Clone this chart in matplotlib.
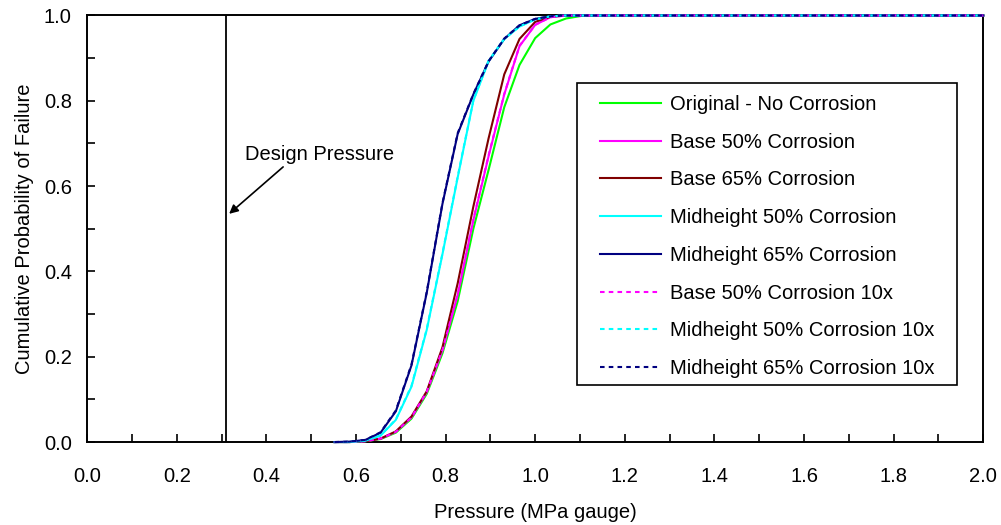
import matplotlib.pyplot as plt
from matplotlib.patches import Rectangle
import numpy as np

plt.rcParams['font.family'] = ['Liberation Sans', 'DejaVu Sans']

# pressure grid (MPa gauge), 5 psi steps
pressure = [0.552, 0.586, 0.621, 0.655, 0.689, 0.724, 0.758, 0.793, 0.827, 0.862,
            0.896, 0.931, 0.965, 1.000, 1.034, 1.069, 1.103, 1.138, 2.000]

original = [0.0, 0.0, 0.002, 0.007, 0.022, 0.055, 0.113, 0.208, 0.330, 0.500,
            0.638, 0.785, 0.884, 0.947, 0.979, 0.993, 0.999, 1.0, 1.0]
base50 = [0.0, 0.0, 0.002, 0.008, 0.024, 0.058, 0.117, 0.215, 0.345, 0.520,
          0.670, 0.815, 0.928, 0.978, 0.996, 1.0, 1.0, 1.0, 1.0]
base65 = [0.0, 0.0, 0.002, 0.008, 0.025, 0.060, 0.119, 0.222, 0.372, 0.552,
          0.712, 0.862, 0.945, 0.985, 0.997, 1.0, 1.0, 1.0, 1.0]
mid50 = [0.0, 0.0, 0.003, 0.015, 0.052, 0.130, 0.263, 0.440, 0.620, 0.800,
         0.893, 0.945, 0.974, 0.991, 0.998, 1.0, 1.0, 1.0, 1.0]
mid65 = [0.0, 0.001, 0.005, 0.022, 0.072, 0.180, 0.350, 0.558, 0.722, 0.815,
         0.892, 0.945, 0.977, 0.992, 0.998, 1.0, 1.0, 1.0, 1.0]
base50_10x = [0.0, 0.0, 0.002, 0.008, 0.024, 0.058, 0.118, 0.216, 0.346, 0.522,
              0.672, 0.816, 0.929, 0.978, 0.996, 1.0, 1.0, 1.0, 1.0]
mid50_10x = [0.0, 0.0, 0.003, 0.016, 0.053, 0.132, 0.265, 0.442, 0.622, 0.801,
             0.894, 0.945, 0.974, 0.991, 0.998, 1.0, 1.0, 1.0, 1.0]
mid65_10x = [0.0, 0.001, 0.005, 0.023, 0.074, 0.182, 0.352, 0.560, 0.724, 0.816,
             0.893, 0.946, 0.977, 0.992, 0.998, 1.0, 1.0, 1.0, 1.0]

design_pressure = 0.31

solid = [
    (original, '#00ff00', 'Original - No Corrosion'),
    (base50, '#ff00ff', 'Base 50% Corrosion'),
    (base65, '#800000', 'Base 65% Corrosion'),
    (mid50, '#00ffff', 'Midheight 50% Corrosion'),
    (mid65, '#000080', 'Midheight 65% Corrosion'),
]
dashed = [
    (base50_10x, '#ff00ff', 'Base 50% Corrosion 10x'),
    (mid50_10x, '#00ffff', 'Midheight 50% Corrosion 10x'),
    (mid65_10x, '#000080', 'Midheight 65% Corrosion 10x'),
]

FS = 14.5

fig = plt.figure(figsize=(10.01, 5.25), dpi=100)
ax = fig.add_axes([0.087, 0.158, 0.8953, 0.8125])

ax.axvline(design_pressure, color='black', lw=1.3, zorder=1)

for y, c, lab in solid:
    ax.plot(pressure, y, color=c, lw=1.5, label=lab, clip_on=False, zorder=3)
for y, c, lab in dashed:
    ax.plot(pressure, y, color=c, lw=1.5, ls=(0, (2.2, 2.0)), label=lab,
            clip_on=False, zorder=3)

# arrow + label for the design pressure
ax.annotate('', xy=(0.317, 0.535), xytext=(0.4375, 0.645),
            arrowprops=dict(arrowstyle='-|>', color='black', lw=1.2,
                            mutation_scale=13, shrinkA=0, shrinkB=0))
ax.text(0.353, 0.675, 'Design Pressure', fontsize=FS, va='center', ha='left')

ax.set_xlim(0, 2.0)
ax.set_ylim(0, 1.0)
ax.set_xticks(np.arange(0, 2.01, 0.2))
ax.set_xticks(np.arange(0, 2.01, 0.1), minor=True)
ax.set_yticks(np.arange(0, 1.01, 0.2))
ax.set_yticks(np.arange(0, 1.01, 0.1), minor=True)
ax.xaxis.set_major_formatter(plt.FormatStrFormatter('%.1f'))
ax.yaxis.set_major_formatter(plt.FormatStrFormatter('%.1f'))
ax.tick_params(which='both', direction='in', length=6, width=1.2,
               top=False, right=False, labelsize=FS)
ax.tick_params(axis='x', which='major', pad=18)
ax.tick_params(axis='y', which='major', pad=11)
for s in ax.spines.values():
    s.set_linewidth(1.4)

ax.set_xlabel('Pressure (MPa gauge)', fontsize=FS, labelpad=12)
ax.set_ylabel('Cumulative Probability of Failure', fontsize=FS, labelpad=7)

# legend box drawn by hand, entries placed inside it
ax.add_patch(Rectangle((0.547, 0.134), 0.424, 0.708, transform=ax.transAxes,
                       facecolor='white', edgecolor='black', lw=1.2, zorder=4))
leg = ax.legend(loc='upper left', bbox_to_anchor=(0.5725, 0.8135), fontsize=FS,
                frameon=False, handlelength=3.0, handletextpad=0.45,
                labelspacing=0.93, borderpad=0, borderaxespad=0)
leg.set_zorder(5)

fig.savefig('out.png', dpi=100)
